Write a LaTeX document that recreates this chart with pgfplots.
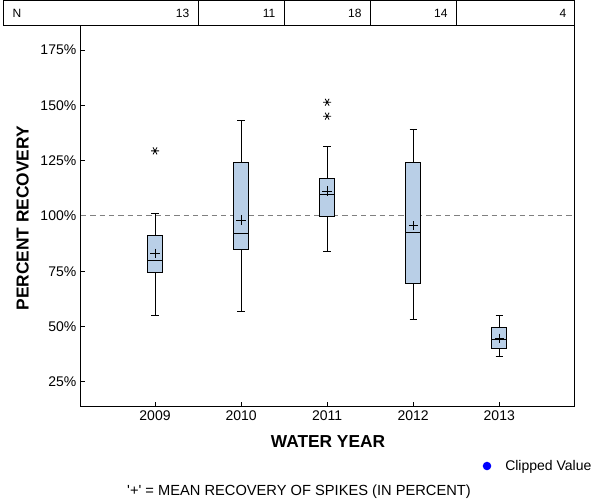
\documentclass[border=0pt]{standalone}
\usepackage{fontspec}
\setmainfont{Liberation Sans}
\usepackage{pgfplots}
\pgfplotsset{compat=1.18}
\usepgfplotslibrary{statistics}
\definecolor{boxblue}{RGB}{185,207,231}
\definecolor{refgray}{RGB}{128,128,128}

\begin{document}
\begin{tikzpicture}
\path[use as bounding box] (0,0) rectangle (450pt,-375pt);
\begin{axis}[
  at={(60.75pt,-18.75pt)}, anchor=north west,
  scale only axis, width=370.5pt, height=285.75pt,
  xmin=2008.14, xmax=2013.88, ymin=14.1, ymax=186.3,
  xtick={2009,2010,2011,2012,2013},
  xticklabels={2009,2010,2011,2012,2013},
  ytick={25,50,75,100,125,150,175},
  yticklabels={25\%,50\%,75\%,100\%,125\%,150\%,175\%},
  xtick pos=left, ytick pos=left,
  tick align=inside, major tick length=3pt,
  axis line style={line width=0.75pt},
  tick style={black, line width=0.75pt},
  tick label style={font=\fontsize{10.5}{12}\selectfont},
  xlabel={WATER YEAR}, ylabel={PERCENT RECOVERY},
  label style={font=\bfseries\fontsize{13}{15}\selectfont},
  xlabel style={at={(axis description cs:0.5,-0.092)}, anchor=center},
  ylabel style={at={(axis description cs:-0.118,0.493)}, anchor=center},
  clip=false,
  boxplot/draw direction=y,
]
% reference line
\addplot[refgray, line width=0.75pt, dash pattern=on 4pt off 3pt] coordinates {(2008.14,100) (2013.88,100)};

% box plots
\addplot[boxplot prepared={draw position=2009, lower whisker=55.1, lower quartile=74.6, median=80.0, upper quartile=91.3, upper whisker=101.2, box extend=0.175, whisker extend=0.085}, draw=black, fill=boxblue, line width=0.75pt, mark=asterisk, mark options={rotate=90, mark size=3pt, black, line width=0.6pt, fill=none}] coordinates {(0,129.4)};
\addplot[boxplot prepared={draw position=2010, lower whisker=56.9, lower quartile=84.9, median=92.2, upper quartile=124.3, upper whisker=143.2, box extend=0.175, whisker extend=0.085}, draw=black, fill=boxblue, line width=0.75pt] coordinates {};
\addplot[boxplot prepared={draw position=2011, lower whisker=84.0, lower quartile=99.9, median=109.8, upper quartile=117.0, upper whisker=131.3, box extend=0.175, whisker extend=0.085}, draw=black, fill=boxblue, line width=0.75pt, mark=asterisk, mark options={rotate=90, mark size=3pt, black, line width=0.6pt, fill=none}] coordinates {(0,145.1) (0,151.4)};
\addplot[boxplot prepared={draw position=2012, lower whisker=53.3, lower quartile=69.3, median=92.6, upper quartile=124.3, upper whisker=139.2, box extend=0.175, whisker extend=0.085}, draw=black, fill=boxblue, line width=0.75pt] coordinates {};
\addplot[boxplot prepared={draw position=2013, lower whisker=36.3, lower quartile=40.2, median=44.0, upper quartile=49.7, upper whisker=55.1, box extend=0.175, whisker extend=0.085}, draw=black, fill=boxblue, line width=0.75pt] coordinates {};

% means
\addplot[only marks, mark=+, mark size=3.5pt, line width=0.75pt, black] coordinates {(2009,83.1) (2010,98.1) (2011,111.2) (2012,95.6) (2013,44.7)};

% N table
\draw[line width=0.75pt] (axis cs:2007.245,186.3) rectangle (axis cs:2013.88,197.15);
\draw[line width=0.75pt] (axis cs:2009.5,186.3) -- (axis cs:2009.5,197.15);
\draw[line width=0.75pt] (axis cs:2010.5,186.3) -- (axis cs:2010.5,197.15);
\draw[line width=0.75pt] (axis cs:2011.5,186.3) -- (axis cs:2011.5,197.15);
\draw[line width=0.75pt] (axis cs:2012.5,186.3) -- (axis cs:2012.5,197.15);
\node[anchor=west, xshift=3pt, font=\fontsize{9}{11}\selectfont] at (axis cs:2007.245,191.7) {N};
\node[anchor=east, xshift=-3pt, font=\fontsize{9}{11}\selectfont] at (axis cs:2009.5,191.7) {13};
\node[anchor=east, xshift=-3pt, font=\fontsize{9}{11}\selectfont] at (axis cs:2010.5,191.7) {11};
\node[anchor=east, xshift=-3pt, font=\fontsize{9}{11}\selectfont] at (axis cs:2011.5,191.7) {18};
\node[anchor=east, xshift=-3pt, font=\fontsize{9}{11}\selectfont] at (axis cs:2012.5,191.7) {14};
\node[anchor=east, xshift=-3pt, font=\fontsize{9}{11}\selectfont] at (axis cs:2013.88,191.7) {4};
\end{axis}
% legend and footnote
\fill[blue] (365.25pt,-349.5pt) circle (3.2pt);
\node[anchor=west, inner sep=0pt, font=\fontsize{10.5}{12}\selectfont] at (378.75pt,-350.25pt) {Clipped Value};
\node[inner sep=0pt, font=\fontsize{11}{13}\selectfont] at (224.25pt,-369pt) {\textquotesingle+\textquotesingle{} = MEAN RECOVERY OF SPIKES (IN PERCENT)};
\end{tikzpicture}
\end{document}
